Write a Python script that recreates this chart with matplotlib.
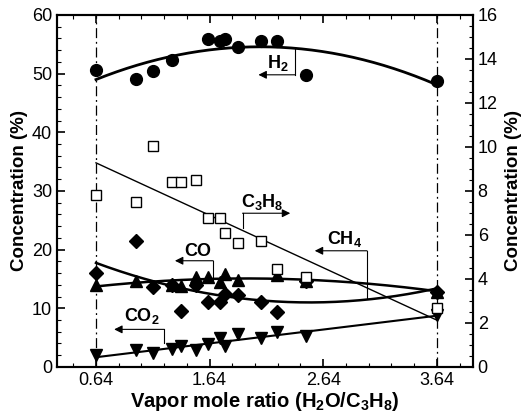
import numpy as np
import matplotlib
matplotlib.use("Agg")
import matplotlib.pyplot as plt
from matplotlib.ticker import MultipleLocator, FixedLocator

plt.rcParams['font.family'] = ['Liberation Sans', 'DejaVu Sans']
plt.rcParams['mathtext.fontset'] = 'custom'
plt.rcParams['mathtext.rm'] = 'Liberation Sans'
plt.rcParams['mathtext.bf'] = 'Liberation Sans:bold'
plt.rcParams['mathtext.default'] = 'bf'

# ---- data ----
x_ratio = [0.64, 0.99, 1.14, 1.31, 1.39, 1.52, 1.63, 1.73, 1.78, 1.89, 2.09, 2.23, 2.49, 3.64]
h2 = [50.6, 49.0, 50.4, 52.3, np.nan, np.nan, 55.9, 55.6, 55.9, 54.5, 55.6, 55.6, 49.8, 48.7]
c3h8 = [7.82, 7.51, 10.06, 8.39, 8.42, 8.5, 6.79, 6.79, 6.08, 5.62, 5.73, 4.44, 4.1, 2.67]  # right axis
ch4 = [16.0, 21.4, 13.7, 14.0, 9.5, 13.9, 11.1, 11.1, 12.5, 12.2, 11.1, 9.3, 14.7, 12.8]
co = [14.0, 14.7, np.nan, 14.0, 13.8, 15.3, 15.3, 14.5, 15.9, 14.8, np.nan, 15.7, 14.7, 12.8]
co2 = [2.0, 2.9, 2.3, 3.0, 3.6, 2.8, 3.9, 4.9, 3.6, 5.6, 4.9, 6.0, 5.3, 8.9]

xticks = [0.64, 1.64, 2.64, 3.64]
xticklabels = ['0.64', '1.64', '2.64', '3.64']

x = np.array(x_ratio)

def fit(yvals, deg):
    y = np.array(yvals, dtype=float)
    m = ~np.isnan(y)
    p = np.polyfit(x[m], y[m], deg)
    xs = np.linspace(0.64, 3.64, 200)
    return xs, np.polyval(p, xs)

fig = plt.figure(figsize=(5.23, 4.16), dpi=100)
ax = fig.add_axes([0.109, 0.118, 0.795, 0.846])
ax2 = ax.twinx()

ax.set_xlim(0.297, 3.957)
ax.set_ylim(0, 60)
ax2.set_ylim(0, 16)

# dash-dot guide lines
for xv in (xticks[0], xticks[-1]):
    ax.axvline(xv, color='black', lw=0.9, ls=(0, (8, 3, 1.5, 3)), zorder=1)

# fit curves
xs, ys = fit(h2, 2)
ax.plot(xs, ys, color='black', lw=2.0, zorder=2)
xs, ys = fit(ch4, 2)
ax.plot(xs, ys, color='black', lw=1.8, zorder=2)
xs, ys = fit(co, 2)
ax.plot(xs, ys, color='black', lw=1.8, zorder=2)
xs, ys = fit(co2, 1)
ax.plot(xs, ys, color='black', lw=1.5, zorder=2)
xs, ys = fit(c3h8, 1)
ax2.plot(xs, ys, color='black', lw=1.0, zorder=2)

# markers
ax.plot(x, h2, 'o', ms=8.5, color='black', zorder=3)
ax.plot(x, ch4, 'D', ms=7, color='black', zorder=3)
ax.plot(x, co, '^', ms=8.5, color='black', zorder=3)
ax.plot(x, co2, 'v', ms=8.5, color='black', zorder=3)
ax2.plot(x, c3h8, 's', ms=7.5, mfc='white', mec='black', mew=1.0, zorder=3)

# annotations (bracket + arrow + label)
def bracket(text, tx, ty, vx, vy0, vy1, tipx, fs=13):
    ax.plot([vx, vx], [vy0, vy1], color='black', lw=0.8, zorder=2)
    ax.annotate('', xy=(tipx, vy1), xytext=(vx, vy1),
                arrowprops=dict(arrowstyle='-|>', color='black', lw=0.8,
                                mutation_scale=12, shrinkA=0, shrinkB=0))
    ax.text(tx, ty, text, ha='center', va='center', fontsize=fs, fontweight='bold')

bracket('H$_2$', 2.24, 51.8, 2.396, 54.4, 49.8, 2.07)
bracket('C$_3$H$_8$', 2.10, 28.2, 1.93, 23.7, 26.2, 2.35)
bracket('CO', 1.54, 19.7, 1.672, 14.5, 18.1, 1.335)
bracket('CH$_4$', 2.83, 21.8, 3.026, 11.7, 19.8, 2.566)
bracket('CO$_2$', 1.04, 8.6, 1.24, 4.0, 6.4, 0.80)

# ticks
ax.xaxis.set_major_locator(FixedLocator(xticks))
ax.set_xticklabels(xticklabels)
ax.xaxis.set_minor_locator(FixedLocator(np.arange(0.44, 3.96, 0.2)))
ax.yaxis.set_major_locator(MultipleLocator(10))
ax.yaxis.set_minor_locator(MultipleLocator(2))
ax2.yaxis.set_major_locator(MultipleLocator(2))
ax2.yaxis.set_minor_locator(MultipleLocator(0.5))

ax.tick_params(axis='both', which='major', direction='in', length=6, width=1.2, labelsize=13, top=True)
ax.tick_params(axis='both', which='minor', direction='in', length=3, width=0.8, top=True)
ax.tick_params(axis='y', right=False, which='both')
ax2.tick_params(axis='y', which='major', direction='in', length=6, width=1.2, labelsize=13)
ax2.tick_params(axis='y', which='minor', direction='in', length=3, width=0.8)

for a in (ax, ax2):
    for s in a.spines.values():
        s.set_linewidth(1.5)

ax.set_xlabel('Vapor mole ratio (H$_2$O/C$_3$H$_8$)', fontsize=14.5, fontweight='bold', labelpad=1)
ax.set_ylabel('Concentration (%)', fontsize=13.5, fontweight='bold', labelpad=3)
ax2.set_ylabel('Concentration (%)', fontsize=13.5, fontweight='bold', labelpad=5, rotation=90)

fig.savefig('out.png', dpi=100)
